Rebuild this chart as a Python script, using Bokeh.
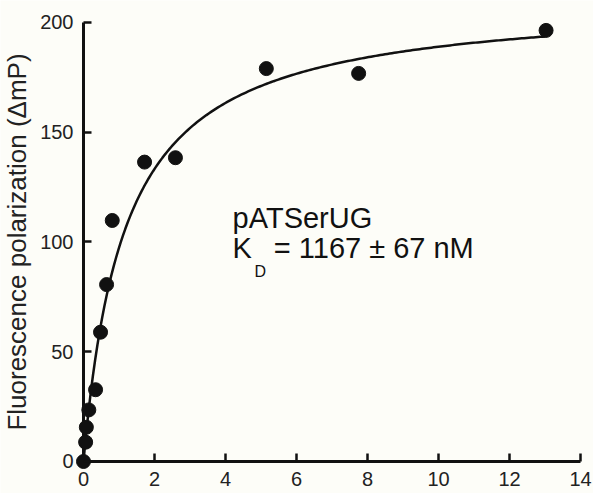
import numpy as np
from bokeh.plotting import figure
from bokeh.models import Range1d, Label, FixedTicker
from bokeh.embed import file_html
from bokeh.resources import INLINE

# Data (concentration in µM, ΔmP)
conc = [0.0, 0.06, 0.08, 0.15, 0.34, 0.48, 0.65, 0.81, 1.72, 2.59, 5.15, 7.75, 13.03]
fp = [0.0, 8.8, 15.6, 23.5, 32.7, 58.9, 80.6, 109.8, 136.4, 138.4, 179.0, 176.8, 196.4]

# Fitted one-site binding model (KD from annotation, Bmax estimated)
KD_UM = 1.167
BMAX = 211.0
fit_x = np.linspace(0.0, 13.0, 200)
fit_y = BMAX * fit_x / (KD_UM + fit_x)

x_ticks = [0, 2, 4, 6, 8, 10, 12, 14]
y_ticks = [0, 50, 100, 150, 200]

FONT = "Liberation Sans"
BG = "#fdfdf8"
INK = "#111111"

p = figure(width=593, height=493,
           x_range=Range1d(-2.338, 14.366), y_range=Range1d(-14.58, 210.02),
           output_backend="svg", toolbar_location=None,
           min_border_left=0, min_border_right=0,
           min_border_top=0, min_border_bottom=0)
p.outline_line_color = None
p.background_fill_color = BG
p.border_fill_color = BG
p.xgrid.visible = False
p.ygrid.visible = False

for ax in (p.xaxis[0], p.yaxis[0]):
    ax.fixed_location = 0
    ax.axis_line_width = 3
    ax.axis_line_color = INK
    ax.major_tick_line_width = 2.5
    ax.major_tick_line_color = INK
    ax.major_tick_in = 8
    ax.major_tick_out = 0
    ax.minor_tick_line_color = None
    ax.major_label_text_font = FONT
    ax.major_label_text_font_size = "20px"
    ax.major_label_text_color = "#222222"

p.xaxis[0].bounds = (0, 14)
p.yaxis[0].bounds = (0, 200)
p.xaxis[0].ticker = FixedTicker(ticks=x_ticks)
p.yaxis[0].ticker = FixedTicker(ticks=y_ticks)
p.xaxis[0].major_label_standoff = 11
p.yaxis[0].major_label_standoff = 10

p.yaxis[0].axis_label = "Fluorescence polarization (\u0394mP)"
p.yaxis[0].axis_label_text_font = FONT
p.yaxis[0].axis_label_text_font_size = "26px"
p.yaxis[0].axis_label_text_font_style = "normal"
p.yaxis[0].axis_label_text_color = "#222222"
p.yaxis[0].axis_label_standoff = 5

p.line(fit_x, fit_y, line_width=2.5, line_color=INK)
p.scatter(conc, fp, size=14, fill_color=INK, line_color=INK)

ann_size = "29px"
p.add_layout(Label(x=4.2, y=103.5, text="pATSerUG", text_font=FONT,
                   text_font_size=ann_size, text_color=INK))
p.add_layout(Label(x=4.2, y=90.0, text="K", text_font=FONT,
                   text_font_size=ann_size, text_color=INK))
p.add_layout(Label(x=4.82, y=82.5, text="D", text_font=FONT,
                   text_font_size="16px", text_color=INK))
p.add_layout(Label(x=5.36, y=90.0, text="= 1167 \u00b1 67 nM", text_font=FONT,
                   text_font_size=ann_size, text_color=INK))

open("out.html", "w").write(file_html(p, INLINE))
